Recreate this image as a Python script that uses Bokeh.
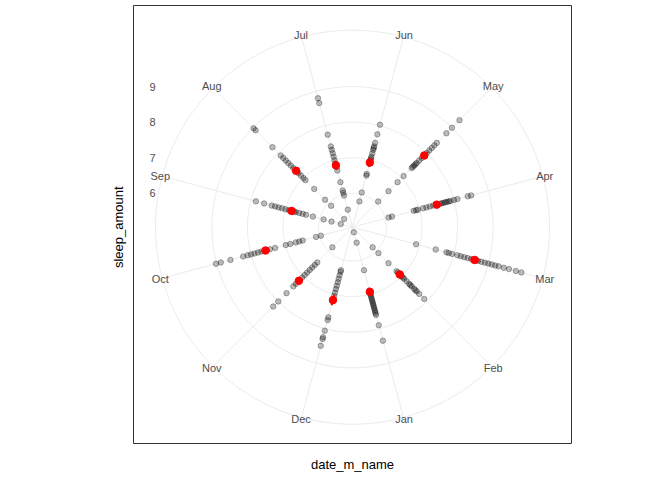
import numpy as np
from bokeh.plotting import figure
from bokeh.models import Range1d
from bokeh.core.properties import value
from bokeh.embed import file_html
from bokeh.resources import INLINE

months = ["Jan","Feb","Mar","Apr","May","Jun","Jul","Aug","Sep","Oct","Nov","Dec"]
sleep = {
 "Jan": [5.2,5.5,6.3,7.0,7.05,7.1,7.15,7.2,7.25,7.3,7.35,7.4,7.45,7.5,7.55,7.6,7.9,8.35,6.9,6.95],
 "Feb": [5.85,6.08,6.48,6.8,6.85,6.9,6.95,7.0,7.05,7.1,7.2,7.3,7.35,7.4,7.5,7.55,7.6,7.7,7.9],
 "Mar": [6.9,7.47,7.78,7.85,7.95,8.1,8.2,8.3,8.4,8.5,8.6,8.65,8.7,8.8,8.9,9.0,9.1,9.2,9.3,9.45,9.6,9.8,9.96],
 "Apr": [6.1,6.2,6.83,6.9,6.95,7.1,7.2,7.3,7.4,7.5,7.6,7.65,7.7,7.75,7.8,7.85,7.9,8.0,8.1,8.4,8.5],
 "May": [6.07,6.48,6.84,7.08,7.4,7.45,7.5,7.55,7.6,7.7,7.8,7.9,8.0,8.1,8.2,8.3,8.4,8.78,9.0,9.3],
 "Jun": [5.8,6.06,6.55,6.6,6.9,6.95,7.0,7.05,7.1,7.2,7.3,7.35,7.4,7.5,7.75,8.03],
 "Jul": [5.56,5.97,6.05,6.12,6.36,6.7,6.8,6.9,7.0,7.1,7.2,7.3,7.4,7.74,8.66,8.8],
 "Aug": [5.38,5.9,6.14,6.57,6.92,7.0,7.1,7.2,7.3,7.4,7.5,7.6,7.7,7.8,7.9,8.23,8.9,8.98],
 "Sep": [5.39,5.66,5.89,6.2,6.4,6.5,6.6,6.7,6.75,6.8,6.85,6.9,7.0,7.1,7.2,7.3,7.4,7.62,7.86],
 "Oct": [5.97,6.11,6.5,6.6,6.7,6.86,6.99,7.3,7.45,7.55,7.6,7.7,7.8,7.9,8.0,8.1,8.23,8.6,8.88,9.02],
 "Nov": [5.85,6.45,6.55,6.65,6.75,6.85,6.95,7.05,7.15,7.2,7.3,7.4,7.67,8.0,8.2],
 "Dec": [6.3,6.35,6.45,6.55,6.65,6.75,6.85,6.95,7.05,7.15,7.2,7.67,7.75,8.06,8.25,8.3,8.5],
}
mean_sleep = [6.93,6.93,8.6,7.5,7.9,6.93,6.85,7.29,6.82,7.58,7.18,7.17]
se_sleep = [0.12,0.1,0.12,0.1,0.12,0.12,0.12,0.12,0.1,0.12,0.1,0.15]
r_ticks = [6,7,8,9]

W, H = 656, 474
cx, cy = 352.0, 226.7
scale, v0 = 35.6, 5.05
R_out = 197.0

def ang(i):
    return np.deg2rad(-75 + 30*i)

def pos(i, v):
    r = (np.asarray(v) - v0)*scale
    a = ang(i)
    return cx + r*np.cos(a), cy - r*np.sin(a)

p = figure(width=W, height=H, output_backend="svg", toolbar_location=None,
           x_range=Range1d(0, W), y_range=Range1d(H, 0), min_border=0)
p.axis.visible = False
p.grid.visible = False
p.outline_line_color = None

th = np.linspace(0, 2*np.pi, 200)
for t in r_ticks:
    rr = (t - v0)*scale
    p.line(cx + rr*np.cos(th), cy + rr*np.sin(th), line_color="#EBEBEB", line_width=1)
p.line(cx + R_out*np.cos(th), cy + R_out*np.sin(th), line_color="#EBEBEB", line_width=1)
for i in range(12):
    a = ang(i)
    p.line([cx, cx + R_out*np.cos(a)], [cy, cy - R_out*np.sin(a)], line_color="#EBEBEB", line_width=1)

for i, m in enumerate(months):
    x, y = pos(i, sleep[m])
    p.scatter(x, y, size=5.5, fill_color="black", fill_alpha=0.25, line_color="black", line_alpha=0.3)
for i in range(12):
    x0, y0 = pos(i, mean_sleep[i]-se_sleep[i])
    x1, y1 = pos(i, mean_sleep[i]+se_sleep[i])
    p.line([x0, x1], [y0, y1], line_color="red", line_width=2)
    x, y = pos(i, mean_sleep[i])
    p.scatter([x], [y], size=7.5, color="red")

for i, m in enumerate(months):
    a = ang(i)
    rl = R_out + 2
    p.text([cx + rl*np.cos(a)], [cy - rl*np.sin(a)], text=[m], text_font=value("Liberation Sans"),
           text_font_size="11px", text_color="#4D4D4D", text_align="center", text_baseline="middle")

for t in r_ticks:
    p.text([155], [cy - (t - v0)*scale], text=[str(t)], text_font=value("Liberation Sans"),
           text_font_size="11px", text_color="#4D4D4D", text_align="right", text_baseline="middle")

p.quad(left=[133], right=[571], top=[5], bottom=[443], fill_color=None, line_color="#333333", line_width=1)

p.text([118], [cy], text=["sleep_amount"], angle=np.pi/2, text_font=value("Liberation Sans"),
       text_font_size="13px", text_color="black", text_align="center", text_baseline="middle")
p.text([352], [464], text=["date_m_name"], text_font=value("Liberation Sans"),
       text_font_size="13px", text_color="black", text_align="center", text_baseline="middle")

open("out.html", "w").write(file_html(p, INLINE))
